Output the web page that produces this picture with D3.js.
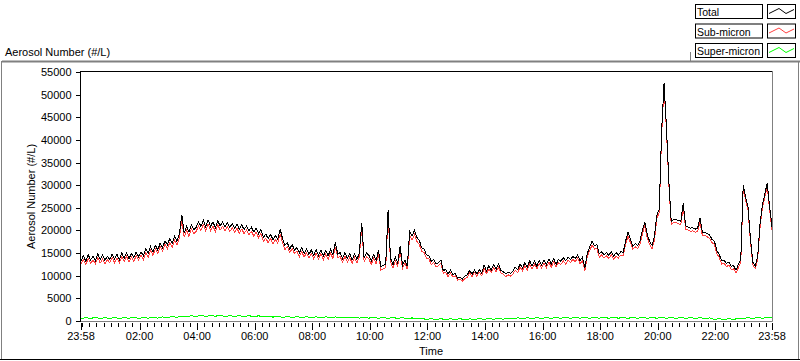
<!DOCTYPE html>
<html><head><meta charset="utf-8">
<script src="https://cdn.jsdelivr.net/npm/d3@7"></script>
<style>
html,body{margin:0;padding:0;background:#fff;}
svg{display:block;font-family:"Liberation Sans",Arial,sans-serif;font-size:11px;}
</style></head><body>
<svg id="c" width="800" height="361"></svg>
<script>
// ---------------- DATA ----------------
const seriesNames = ["Total", "Sub-micron", "Super-micron"];
const seriesColors = ["#000000", "#ff4040", "#00ff00"];
const stepTotalMin = 5;   // sample spacing of Total / Sub-micron (minutes)
const stepSuperMin = 10;  // sample spacing of Super-micron (minutes)

const total = [
13300,14400,13200,14600,13500,14300,13300,14800,13600,14500,13400,14300,
13600,14800,13700,14700,13500,15000,13900,15100,13800,14900,14000,15200,
14200,15300,14400,15900,14900,16400,15300,16700,15700,17200,16200,17700,
16800,18200,17100,18700,17600,19200,23500,19400,20900,19600,21300,20200,
20700,21900,20900,22200,20800,22300,20900,21900,20600,22100,21000,21800,
20800,21700,20600,21500,20500,21400,20300,21200,20200,21000,20000,20700,
19700,20500,19300,20200,18500,19200,18200,19100,18000,18900,18100,20300,
18200,16700,17300,15900,16900,15700,16200,15000,16200,14900,15900,14700,
15700,14500,15800,14500,15700,14300,15600,14400,15800,14600,17400,14800,
15100,13800,15100,13800,14900,13500,14800,13600,15000,21700,13900,15000,
14500,13300,14700,13400,15600,12000,12300,12600,24500,13900,12400,14100,
12800,16500,12300,13500,12100,19800,18800,20000,18500,17800,16200,15900,
14600,14400,13200,13600,12600,12900,13500,11100,11400,10400,11200,10200,
10500,9500,9700,9300,9900,10200,11200,10300,11300,10400,11400,10500,
12400,11100,12200,11300,12500,11400,12600,11200,10900,10400,10800,10500,
11000,11900,11300,12600,11700,12900,11900,13300,12100,13200,12100,13400,
12400,13500,12500,13700,12600,13800,12500,13600,13200,14000,13300,14100,
13600,14300,13800,14600,13300,14100,11700,14900,16300,17600,16600,16900,
14800,15300,14600,15100,14500,15300,14300,15100,14600,15300,15200,17700,
19600,18000,16500,17100,16700,17700,20100,21900,19100,17600,16700,18700,
23400,24600,42000,52500,43000,31000,22000,22400,22400,22200,22000,26000,
21000,20800,20500,20600,20300,20500,22700,19500,19600,19300,19000,18000,
17600,15600,14700,13300,13500,12700,13000,12100,12200,11200,12500,13700,
30100,27300,25200,18300,13000,12200,14100,21300,25700,28000,30500,25300,20800
];

const subMicron = [
12600,13500,12500,13800,12700,13500,12600,14000,12800,13700,12700,13500,
12900,14000,12900,13900,12800,14200,13100,14300,13000,14100,13200,14400,
13500,14500,13600,15100,14100,15600,14500,15900,14900,16400,15400,16900,
16000,17300,16300,17900,16800,18300,22300,18500,20000,18700,20400,19300,
19800,21000,20000,21300,19900,21400,20000,21000,19700,21200,20100,20900,
19900,20800,19700,20600,19600,20500,19400,20300,19300,20100,19100,19800,
18800,19600,18400,19300,17600,18300,17300,18200,17100,18000,17200,19200,
17300,15800,16400,15100,16000,14900,15400,14200,15400,14100,15100,13900,
14900,13700,15000,13700,14900,13500,14800,13600,15000,13800,16400,14000,
14300,13000,14300,13000,14100,12700,14000,12800,14200,20600,13100,14200,
13700,12500,13900,12600,14700,11300,11500,11800,23300,13100,11700,13300,
12100,15600,11600,12800,11400,18900,17900,19100,17600,16900,15400,15100,
13900,13700,12500,12900,11900,12200,12800,10500,10800,9800,10600,9700,
10000,9000,9200,8800,9400,9700,10600,9800,10700,9900,10800,10000,
11700,10500,11500,10700,11800,10800,11900,10600,10300,9800,10200,9900,
10400,11200,10700,11900,11100,12200,11300,12600,11500,12500,11500,12700,
11700,12800,11800,13000,11900,13100,11900,12900,12500,13300,12600,13400,
12900,13600,13100,13900,12600,13400,11100,14200,15500,16800,15900,16100,
14100,14600,13900,14400,13800,14600,13600,14400,13900,14600,14500,16900,
18800,17300,15800,16400,16000,17000,19300,21100,18400,16900,16000,17900,
22700,23900,41200,51800,42200,30300,21300,21700,21700,21500,21300,25300,
20300,20100,19800,19900,19600,19800,21900,18800,18900,18600,18300,17300,
16900,14900,14000,12600,12800,12000,12300,11400,11500,10600,11800,13000,
29400,26600,24500,17600,12400,11600,13500,20600,25000,27300,29800,24600,20100
];

const superMicron = [
500,780,560,820,480,760, 540,800,520,740,600,820, 560,780,620,860,640,900,
760,1000,820,1100,960,1160,
980,1240,1000,1260,1040,1300, 960,1220,1000,1180,940,1200,
900,1160,880,1100,860,1060,
780,1000,760,980,740,960, 720,940,700,920,700,900, 660,880,680,860,640,840,
640,820,600,800,580,780, 560,740,520,680,460,620,
320,540,300,520,280,500, 300,520,260,480,320,540, 340,560,360,600,400,620,
460,700,500,740,520,780, 540,800,560,820,580,840, 560,860,600,820,560,840,
600,860,580,820,620,800, 580,840,600,860,560,820, 600,840,560,820,580,800,
560,780,520,760,480,700,
340,560,300,520,340,600,
500,760,560,820,580,800,660
];

const yTicks = [0,5000,10000,15000,20000,25000,30000,35000,40000,45000,50000,55000];
const xTickLabels = ["23:58","02:00","04:00","06:00","08:00","10:00","12:00",
                     "14:00","16:00","18:00","20:00","22:00","23:58"];
const yTitle = "Aerosol Number (#/L)";
const xTitle = "Time";

// ---------------- CHART ----------------
const svg = d3.select("#c");
const t0 = new Date(2000, 0, 1, 23, 58);
const t1 = d3.timeHour.offset(t0, 24);
const x = d3.scaleTime().domain([t0, t1]).range([81, 772]);
const y = d3.scaleLinear().domain([0, 55000]).range([321, 72]);

const tickDates = xTickLabels.map((s, k) => {
  if (k === 0) return t0;
  const [hh, mm] = s.split(":").map(Number);
  return new Date(2000, 0, 2, hh, mm);
});

// panel frame
const gray = "#808080";
svg.append("line").attr("x1",2).attr("x2",800).attr("y1",61.5).attr("y2",61.5).attr("stroke",gray).attr("stroke-width",2);
svg.append("line").attr("x1",1.5).attr("x2",1.5).attr("y1",61).attr("y2",360).attr("stroke",gray);
svg.append("line").attr("x1",798.5).attr("x2",798.5).attr("y1",61).attr("y2",360).attr("stroke",gray);
svg.append("line").attr("x1",0).attr("x2",800).attr("y1",359.5).attr("y2",359.5).attr("stroke","#000");
svg.append("line").attr("x1",690.5).attr("x2",690.5).attr("y1",52).attr("y2",61).attr("stroke",gray);

// titles
svg.append("text").attr("x",5).attr("y",56).text(yTitle);
svg.append("text").attr("transform","translate(35,196.5) rotate(-90)").attr("text-anchor","middle").text(yTitle);
svg.append("text").attr("x",431).attr("y",355).attr("text-anchor","middle").text(xTitle);

// clip
svg.append("clipPath").attr("id","clip").append("rect").attr("x",81).attr("y",71).attr("width",691).attr("height",250.5);

const plot = svg.append("g").attr("clip-path","url(#clip)");
const line = d3.line().x(d => x(d[0])).y(d => y(d[1]));
const mk = (arr, step) => arr.map((v, i) => [d3.timeMinute.offset(t0, i * step), v]);
const data = [mk(total, stepTotalMin), mk(subMicron, stepTotalMin), mk(superMicron, stepSuperMin)];
// draw Super, Sub, then Total on top
[2, 1, 0].forEach(k => {
  plot.append("path").datum(data[k]).attr("d", line).attr("fill","none")
    .attr("stroke", seriesColors[k]).attr("stroke-width",1).attr("shape-rendering","crispEdges");
});

// plot borders
svg.append("line").attr("x1",80.5).attr("x2",772.5).attr("y1",71.5).attr("y2",71.5).attr("stroke","#000");
svg.append("line").attr("x1",80.5).attr("x2",80.5).attr("y1",71).attr("y2",321.5).attr("stroke","#000");
svg.append("line").attr("x1",772.5).attr("x2",772.5).attr("y1",71.5).attr("y2",321.5).attr("stroke",gray);
svg.append("line").attr("x1",80.5).attr("x2",772.5).attr("y1",321.5).attr("y2",321.5).attr("stroke",gray);

// y axis
const ya = svg.append("g").attr("transform","translate(80.5,0)")
  .call(d3.axisLeft(y).tickValues(yTicks).tickSize(5).tickPadding(4).tickFormat(d3.format("d")));
ya.select(".domain").remove();
ya.selectAll("line").attr("stroke","#000").attr("shape-rendering","crispEdges");
ya.selectAll("text").attr("fill","#000").style("font-family","'Liberation Sans',Arial,sans-serif").style("font-size","11px");

// x axis ticks
const minor = d3.timeMinute.every(15).range(t0, t1).filter(d => !tickDates.some(t => Math.abs(t - d) < 60000));
const xa = svg.append("g");
xa.selectAll("line.mi").data(minor).join("line").attr("class","mi")
  .attr("x1", d => Math.round(x(d)) + 0.5).attr("x2", d => Math.round(x(d)) + 0.5)
  .attr("y1",323).attr("y2",327).attr("stroke","#000");
xa.selectAll("line.ma").data(tickDates).join("line").attr("class","ma")
  .attr("x1", d => Math.round(x(d)) + 0.5).attr("x2", d => Math.round(x(d)) + 0.5)
  .attr("y1",323).attr("y2",330).attr("stroke","#000");
xa.selectAll("text").data(tickDates).join("text")
  .attr("x", d => x(d)).attr("y",340).attr("text-anchor","middle")
  .text((d, k) => xTickLabels[k]);

// legend
seriesNames.forEach((name, k) => {
  const top = 4 + k * 19.5;
  const g = svg.append("g").attr("transform", `translate(0,${top})`);
  g.append("rect").attr("x",695.5).attr("y",0.5).attr("width",67).attr("height",14)
    .attr("fill","#fff").attr("stroke","#000");
  g.append("text").attr("x",697).attr("y",12).style("font-size","10.5px").text(name);
  g.append("rect").attr("x",767.5).attr("y",0.5).attr("width",28).attr("height",14)
    .attr("fill","#fff").attr("stroke","#000");
  g.append("path").attr("d","M769,9.5L779,4.5L786,9.5L794,5.5").attr("fill","none")
    .attr("stroke", seriesColors[k]).attr("stroke-width",1);
});
</script>
</body></html>
